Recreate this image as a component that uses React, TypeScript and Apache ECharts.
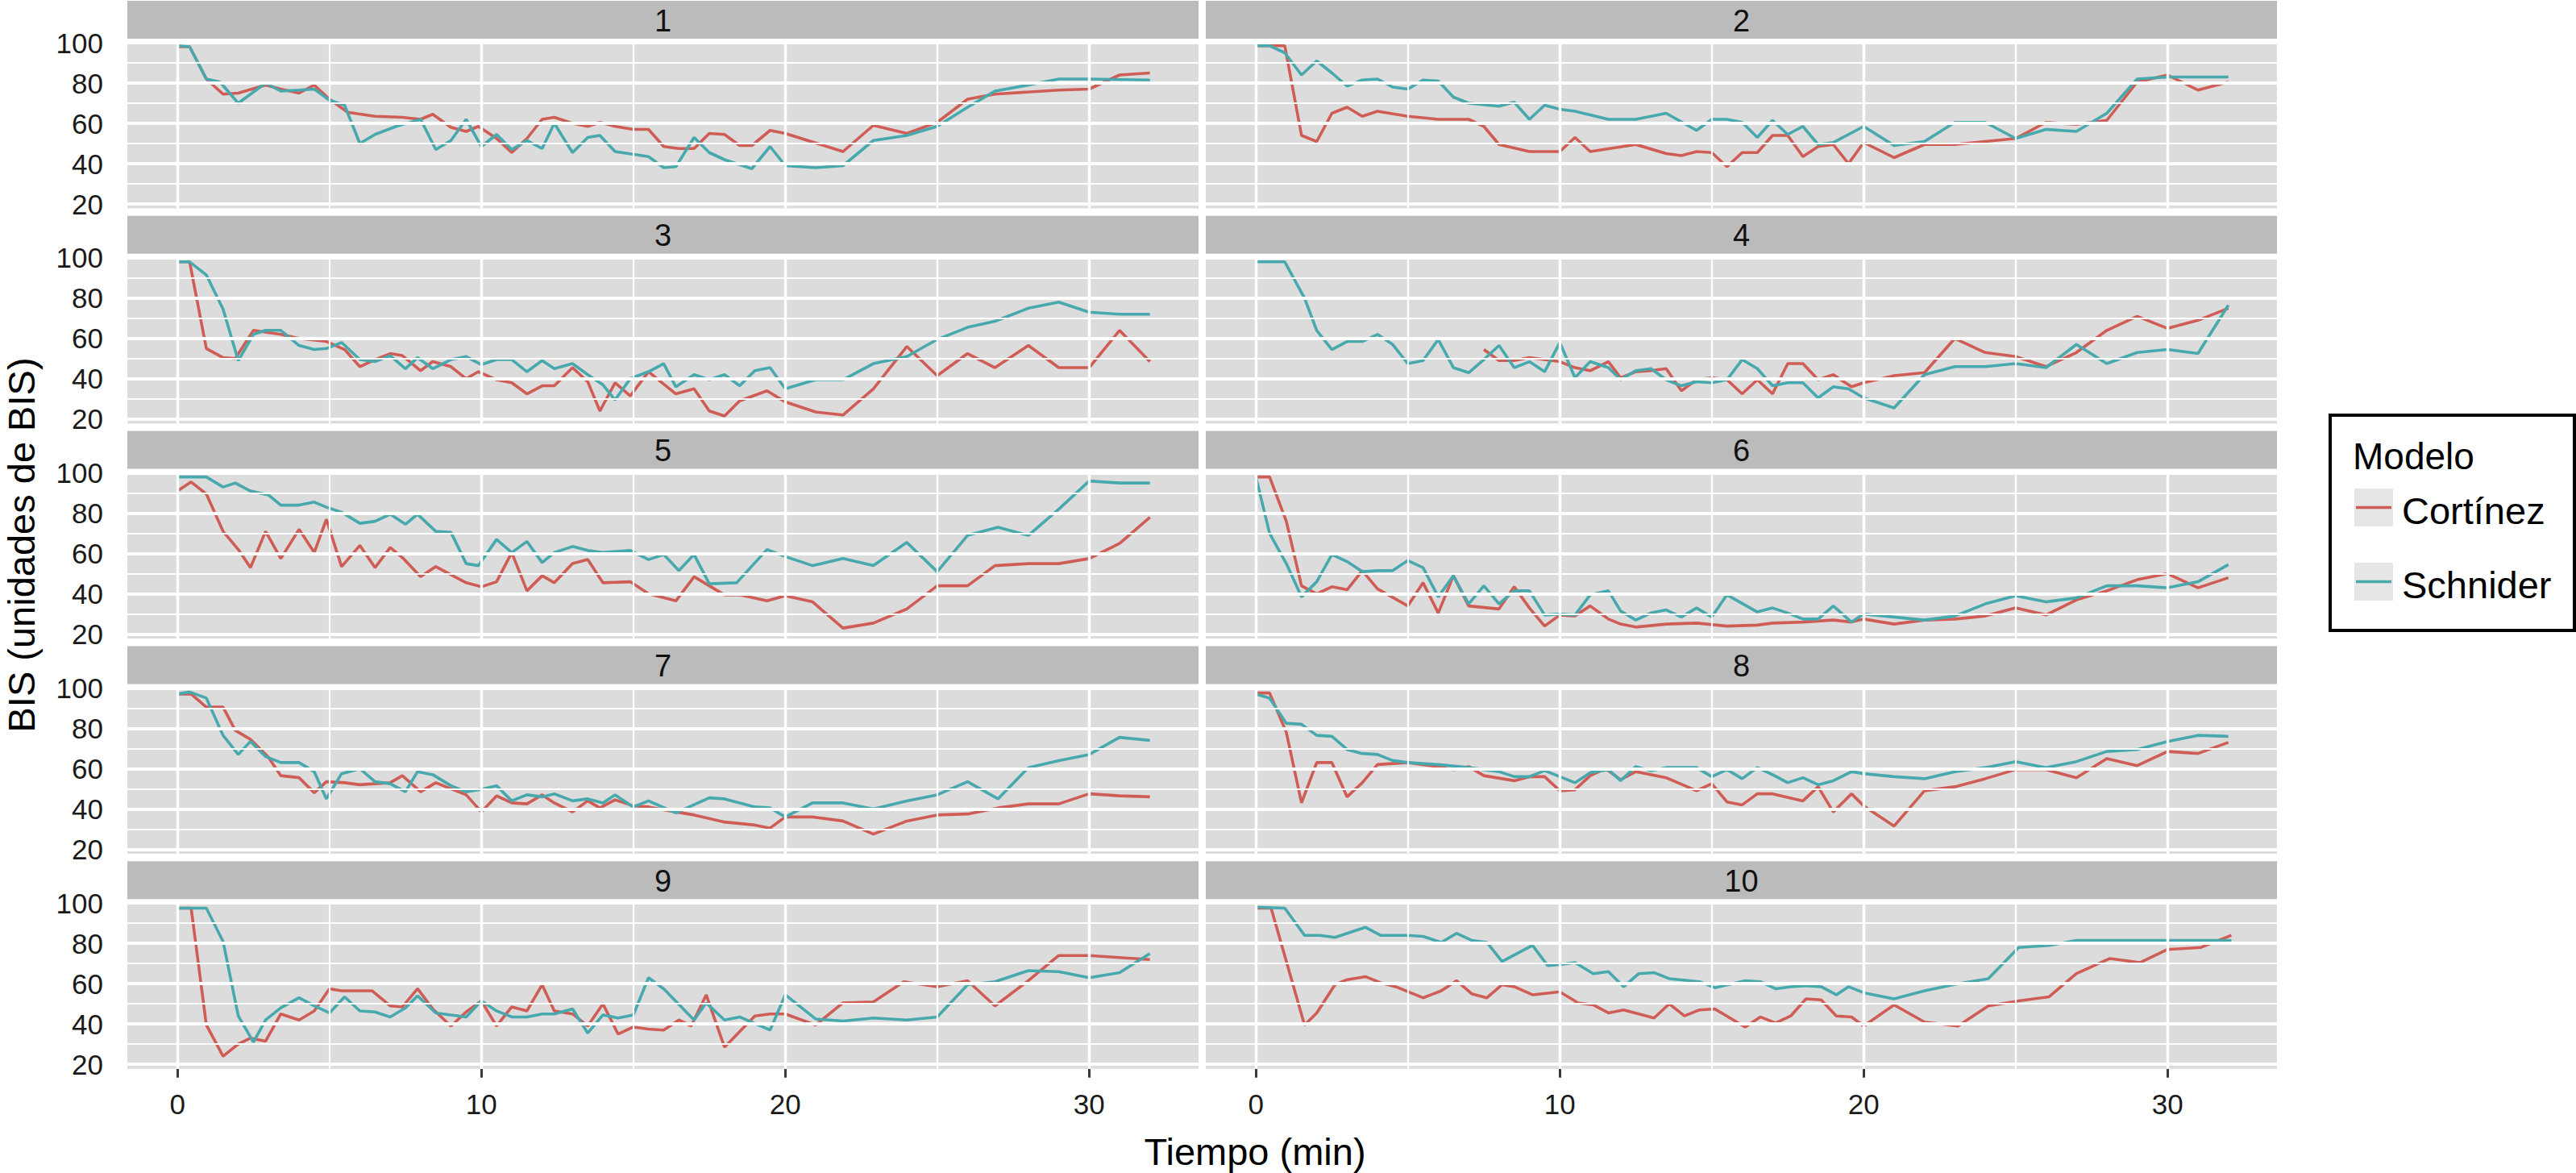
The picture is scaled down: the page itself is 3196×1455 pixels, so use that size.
import React, { useEffect, useRef } from "react";
import * as echarts from "echarts";

const FONT = '"Liberation Sans", Arial, Helvetica, sans-serif';
const RED = "#CF5D55";
const TEAL = "#47A9AD";

const panelLabels = ["1", "2", "3", "4", "5", "6", "7", "8", "9", "10"];
const seriesNames = ["Cortínez", "Schnider"];
const xTicks = [0, 10, 20, 30];
const xMinor = [5, 15, 25];
const yTicks = [20, 40, 60, 80, 100];
const yMinor = [30, 50, 70, 90];
const xTitle = "Tiempo (min)";
const yTitle = "BIS (unidades de BIS)";
const legendTitle = "Modelo";

const p1C = [[0,98],[0.4,98],[0.95,82],[1.5,74.5],[2,75],[2.9,79],[3.4,77],[4,75],[4.5,79],[5,72],[5.6,65.5],[6.5,63.5],[7.4,63],[8,62],[8.4,64.5],[9,58],[9.5,56],[9.9,58.5],[10.5,52.5],[11,45.5],[11.5,52.5],[12,62],[12.4,63],[13,60],[13.5,58.5],[13.9,60.5],[14.4,58.5],[15,57],[15.5,57],[16,48.5],[16.5,47.5],[17,47.5],[17.5,55],[18,54.5],[18.5,49],[18.9,49],[19.5,56.5],[20,55],[21.9,46],[22.9,59],[24,55],[25,60.5],[26,72],[26.9,74.5],[29,76.5],[30,77],[31,84],[32,85]];
const p1S = [[0,98.5],[0.4,98],[0.95,82],[1.4,80.5],[2,70],[2.9,80],[3.4,76],[4,76.5],[4.5,77],[5,71.5],[5.5,69],[6,50],[6.5,54.5],[7.2,58.5],[8,62],[8.5,47],[9,51.5],[9.5,62],[10,48.5],[10.5,54.5],[11,47],[11.5,51.5],[12,47.5],[12.4,60],[13,45.5],[13.5,53],[13.9,54],[14.4,46],[15.5,43.5],[16,38],[16.4,38.5],[17,53],[17.5,45.5],[18,42],[18.9,37.5],[19.5,48.5],[20,39],[21,38],[21.9,39],[22.9,51.5],[24,54],[25,58.5],[26,68],[26.9,76],[28,79],[29,82],[30,82],[32,81.5]];
const p2C = [[0,98.5],[0.95,98.5],[1.5,54],[2,51],[2.5,65],[3,68],[3.5,63.5],[4,66],[5,63.5],[6,62],[7,62],[7.5,58.5],[8,49.5],[9,46],[10,46],[10.5,53],[11,46],[12.5,49.5],[13.5,45],[14,44],[14.5,46],[15,45.5],[15.5,38.5],[16,45.5],[16.5,45.5],[17,54],[17.5,54],[18,43.5],[18.5,48.5],[19,49.5],[19.5,40],[20,50.5],[21,43],[22,49.5],[23,49.5],[24,51],[25,52.5],[26,60.5],[27,59.5],[28,61.5],[29,80.5],[30,84],[31,76.5],[32,80.5]];
const p2S = [[0,98.5],[0.45,98.5],[0.95,95],[1.5,84],[2,91],[2.5,85],[3,78.5],[3.5,81.5],[4,82],[4.5,78],[5,77],[5.5,81.5],[6,81],[6.5,73],[7,70],[8,68.5],[8.5,70.5],[9,62],[9.5,69],[10,67],[10.5,66],[11.6,62],[12.5,62],[13.5,65],[14.5,56.5],[15,62],[15.5,62],[16,60.5],[16.5,53],[17,61.5],[17.5,54.5],[18,58.5],[18.5,49.5],[19,50.5],[20,58.5],[21,49],[22,51],[23,60.5],[24,60.5],[25,52.5],[26,57],[27,56],[28,65],[29,82],[30,83],[32,83]];
const p3C = [[0,98],[0.4,98],[0.95,55],[1.5,50.5],[1.9,50],[2.5,64],[3.4,62],[4,60],[4.9,58.5],[5.5,54.5],[6,46],[6.5,49.5],[7,52.5],[7.4,51.5],[8,44],[8.4,48.5],[9,46],[9.5,40],[9.9,43.5],[10.5,39.5],[11,38],[11.5,32.5],[12,36.5],[12.4,36.5],[13,45.5],[13.5,38.5],[13.9,24],[14.4,38],[14.9,31.5],[15.5,43.5],[16.4,32.5],[17,35],[17.5,24],[18,21.5],[18.5,29],[19.4,34],[20,28.5],[21,23.5],[21.9,22],[22.9,35],[24,56],[25,41.5],[26,52.5],[26.9,45.5],[28,56.5],[29,45.5],[30,45.5],[31,64],[32,48.5]];
const p3S = [[0,98],[0.4,98],[0.95,91.5],[1.5,74.5],[2,49],[2.5,62],[2.9,64],[3.4,64],[4,56.5],[4.5,54.5],[4.9,55],[5.4,58],[6,49.5],[6.5,48.5],[7,51.5],[7.5,45],[7.9,50.5],[8.4,45],[9,49.5],[9.5,51],[10,47],[10.5,49.5],[11,49.5],[11.5,43.5],[12,49],[12.4,45],[13,47.5],[13.5,42],[14,37],[14.4,29.5],[14.9,40],[15.5,43.5],[16,47.5],[16.4,36],[17,42],[17.5,39.5],[18,42],[18.5,36.5],[19,44],[19.5,45.5],[20,35],[21,39.5],[21.9,39.5],[22.9,47.5],[24,51],[25,59.5],[26,65.5],[26.9,68.5],[28,75],[29,78],[30,73],[31,72],[32,72]];
const p4C = [[7.5,54.5],[8,49],[8.5,49],[9,50.5],[9.5,49.5],[10,48.5],[10.5,45.5],[11,44],[11.6,48.5],[12,40.5],[12.5,43.5],[13,44],[13.5,45],[14,34],[14.5,39.5],[15,40.5],[15.5,39.5],[16,32.5],[16.5,39.5],[17,32.5],[17.5,47.5],[18,47.5],[18.5,39.5],[19,42],[19.6,36],[20,38],[21,41.5],[22,43],[23,60],[24,53],[25,51],[26,46],[27,53],[28,64],[29,71],[30,65],[31,69],[32,75]];
const p4S = [[0,98],[0.95,98],[1.6,80],[2,64],[2.5,54.5],[3,58.5],[3.5,58.5],[4,62],[4.5,57],[5,47.5],[5.5,49],[6,59.5],[6.5,45.5],[7,43],[7.5,49.5],[8,56.5],[8.5,45.5],[9,48.5],[9.5,43.5],[10,58],[10.5,40.5],[11,48.5],[11.6,45.5],[12,39.5],[12.5,44],[13,45],[13.5,39.5],[14,36.5],[14.5,38.5],[15,38],[15.5,39.5],[16,49.5],[16.5,45],[17,36.5],[17.5,38],[18,38],[18.5,30.5],[19,36],[19.5,35],[20,30.5],[21,25.5],[22,42],[23,46],[24,46],[25,47.5],[26,45.5],[27,57],[28,47.5],[29,53],[30,54.5],[31,52.5],[32,76.5]];
const p5C = [[0,91],[0.45,95.5],[0.95,89.5],[1.5,71],[2,62],[2.4,53],[2.9,71],[3.4,57.5],[4,72],[4.5,60.5],[4.9,77],[5.4,53.5],[6,64],[6.5,53],[7,63],[7.4,58],[8,48.5],[8.5,53.5],[9.5,45.5],[10,43.5],[10.5,46],[11,60.5],[11.5,41.5],[12,49],[12.4,45.5],[13,55],[13.5,57],[14,45.5],[14.9,46],[15.5,40],[16.4,36.5],[17,48.5],[18,39.5],[18.5,39.5],[19.4,36.5],[20,39],[20.9,36],[21.9,23],[22.9,25.5],[24,32.5],[25,44],[26,44],[26.9,54],[28,55],[29,55],[30,57.5],[31,65],[32,78]];
const p5S = [[0,98],[0.95,98],[1.5,93],[1.9,95],[2.4,91],[3,89],[3.4,84],[4,84],[4.5,85.5],[4.9,83],[5.4,80.5],[6,75],[6.5,76],[7,79.5],[7.5,74.5],[7.9,79.5],[8.5,71],[9,70.5],[9.5,55],[9.9,54],[10.5,67],[11,60.5],[11.5,66],[12,55.5],[12.4,60.5],[13,63.5],[13.5,61.5],[14,60.5],[14.9,61.5],[15.5,57],[16,59.5],[16.5,51.5],[17,59.5],[17.5,45],[18.4,45.5],[19.4,62],[20,58.5],[20.9,54],[21.9,57.5],[22.9,54],[24,65.5],[25,51],[26,69],[27,73],[28,69],[29,82],[30,96],[31,95],[32,95]];
const p6C = [[0,98],[0.45,98],[1,76],[1.5,44],[2,40],[2.5,43.5],[3,42],[3.5,51.5],[4,42.5],[5,34],[5.5,45.5],[6,30.5],[6.5,49],[7,34],[8,32.5],[8.5,43.5],[9,33],[9.5,24],[10,29.5],[10.5,29],[11,34],[11.6,27.5],[12,25],[12.5,23.5],[13.5,25],[14.5,25.5],[15.5,24],[16.5,24.5],[17,25.5],[18,26],[19,27],[19.6,26],[20,27.5],[21,25],[22,27],[23,27.5],[24,29],[25,33],[26,29.5],[27,37],[28,41.5],[29,47],[30,50],[31,43],[32,48]];
const p6S = [[0,98],[0.45,70],[1,55],[1.5,38.5],[2,46],[2.5,59.5],[3,56],[3.5,51],[4,51.5],[4.5,51.5],[5,56.5],[5.5,53],[6,38.5],[6.5,49],[7,35],[7.5,44],[8,35],[8.5,41.5],[9,41.5],[9.5,29.5],[10,30],[10.5,29.5],[11,39.5],[11.6,41.5],[12,31.5],[12.5,27],[13,30.5],[13.5,32],[14,28.5],[14.5,33],[15,28.5],[15.5,39.5],[16.5,31],[17,33],[17.5,30.5],[18,27.5],[18.5,27.5],[19,34],[19.6,26],[20,30],[21,28.5],[22,27],[23,29],[24,35],[25,39],[26,36],[27,38],[28,44],[29,44],[30,43],[31,46],[32,54.5]];
const p7C = [[0,97],[0.45,97],[0.95,90.5],[1.5,90.5],[1.9,79],[2.4,74.5],[3,65.5],[3.4,56.5],[4,55.5],[4.5,48],[4.9,53.5],[5.5,53],[6,52],[7,53],[7.4,56.5],[8,48.5],[8.5,53],[9,50],[9.5,47],[10,38.5],[10.5,46.5],[11,43],[11.5,42.5],[12,47],[12.4,43],[13,38.5],[13.5,44],[13.9,40.5],[14.4,44.5],[15,41.5],[15.5,41],[16.4,38.5],[17,37],[18,33.5],[19,32],[19.5,30.5],[20,36],[20.9,36],[21.9,34],[22.9,27.5],[24,34],[25,37],[26,37.5],[27,40.5],[28,42.5],[29,42.5],[30,47.5],[31,46.5],[32,46]];
const p7S = [[0,97],[0.4,98],[0.95,95],[1.5,76.5],[2,67],[2.4,73.5],[2.9,66],[3.4,63],[4,63],[4.5,58.5],[4.9,45],[5.4,57.5],[6,60],[6.5,53.5],[7,52.5],[7.5,48.5],[7.9,58.5],[8.4,57],[9,51.5],[9.5,48.5],[9.9,49.5],[10.5,51.5],[11,44],[11.5,47],[12,46],[12.4,47.5],[13,44],[13.5,45],[14,43],[14.4,47],[15,41],[15.5,44],[16.4,38],[17.5,45.5],[18,45],[19,41],[19.5,40.5],[20,36],[20.9,43],[21.9,43],[22.9,40],[24,44],[25,47],[26,53.5],[27,45],[28,60.5],[29,64],[30,67],[31,75.5],[32,74]];
const p8C = [[0,97.5],[0.45,97.5],[1,78],[1.5,43],[2,63],[2.5,63],[3,46],[3.5,53],[4,62],[5,63],[6,61],[6.5,59.5],[7,61],[7.5,56.5],[8.5,54],[9,56],[9.5,56],[10,49],[10.5,49.5],[11,56.5],[11.5,60],[12,54.5],[12.5,58.5],[13.5,55.5],[14.5,49],[15,52.5],[15.5,43.5],[16,42],[16.5,47.5],[17,47.5],[18,44],[18.5,51],[19,38.5],[19.6,47.5],[20,41.5],[21,31.5],[22,49],[23,51],[24,55],[25,59.5],[26,59.5],[27,55.5],[28,65],[29,61.5],[30,68.5],[31,67.5],[32,73]];
const p8S = [[0,97],[0.45,95],[1,82.5],[1.5,82],[2,76.5],[2.5,76],[3,69.5],[3.5,67.5],[4,67],[4.5,64],[5,63],[6,62],[7,60.5],[8,58.5],[8.5,56],[9,56],[9.5,59],[10,56],[10.5,53],[11,58],[11.6,59.5],[12,54],[12.5,61],[13,59],[13.5,60.5],[14.5,60.5],[15,56],[15.5,59.5],[16,55],[16.5,60.5],[17,57],[17.5,53],[18,55.5],[18.5,52],[19,54],[19.6,58.5],[20,57.5],[21,56],[22,55],[23,58.5],[24,60.5],[25,63.5],[26,60.5],[27,63.5],[28,68.5],[29,69.5],[30,73.5],[31,76.5],[32,76]];
const p9C = [[0,97.5],[0.45,97.5],[0.95,39.5],[1.5,24],[2,30],[2.4,33],[2.9,31.5],[3.4,45],[4,42],[4.5,46.5],[5,57.5],[5.4,56.5],[6.4,56.5],[7,49],[7.4,48.5],[7.9,57.5],[8.4,47.5],[9,39],[9.5,46],[10,51.5],[10.5,39],[11,48.5],[11.5,46.5],[12,59.5],[12.4,46.5],[13,45],[13.5,39],[14,50],[14.5,35],[15,38.5],[15.5,37.5],[16,37],[16.5,42],[16.9,39],[17.4,54.5],[18,28.5],[19,44],[19.5,45],[20,45],[21,39.5],[21.9,50.5],[22.9,51],[23.9,61],[25,58.5],[26,61.5],[26.9,49],[28,61.5],[29,74],[30,74],[31,73],[32,72]];
const p9S = [[0,97.5],[0.95,97.5],[1.5,81],[2,44],[2.5,31],[2.9,42],[3.4,48],[4,53],[4.5,49],[5,45.5],[5.5,53.5],[6,46.5],[6.5,46],[7,43.5],[7.5,48],[7.9,54],[8.5,45.5],[9,44.5],[9.5,43.5],[10,51.5],[10.5,46.5],[11,43.5],[11.5,43.5],[12,45],[12.4,45],[13,47.5],[13.5,35.5],[14,44.5],[14.5,43],[15,44.5],[15.5,63],[16,57.5],[17,42],[17.4,50.5],[18,42],[18.5,43.5],[19.5,37],[20,54.5],[21,42.5],[21.9,41.5],[22.9,43],[24,42],[25,43.5],[26,59.5],[26.9,61],[28,66.5],[29,66],[30,63],[31,65.5],[32,75]];
const p10C = [[0,97.5],[0.5,97.5],[1.6,39.5],[2,45.5],[2.6,59.5],[3,62],[3.6,63.5],[4.1,60.5],[4.6,58.5],[5.5,53],[6.1,56.5],[6.6,61.5],[7.1,55],[7.6,53],[8.1,59.5],[8.5,58.5],[9.1,54.5],[10,56],[10.6,50.5],[11.1,49.5],[11.6,45.5],[12.1,47],[13.1,43],[13.6,50],[14.1,44],[14.6,47],[15.1,47.5],[16.1,38.5],[16.6,43.5],[17.1,40.5],[17.6,44],[18.1,52.5],[18.6,52],[19.1,44],[19.6,43.5],[20,39],[21,49.5],[22,41],[23.1,39],[24.1,49],[25.1,51.5],[26.1,53.5],[27,65],[28.1,72.5],[29.1,70.5],[30,77],[31.1,78],[32.1,84]];
const p10S = [[0,98],[0.95,97.5],[1.6,84],[2.1,84],[2.6,83],[3.6,88],[4.1,84],[5,84],[5.5,83.5],[6.1,80.5],[6.6,85],[7.1,81.5],[7.6,80.5],[8.1,71],[9.1,79],[9.6,69],[10,69.5],[10.5,70.5],[11.1,65],[11.6,66],[12.1,58.5],[12.6,65],[13.1,65.5],[13.6,62.5],[14.6,61],[15.1,58],[16.1,61.5],[16.6,61],[17.1,57.5],[17.6,58.5],[18.1,59],[18.6,58.5],[19.1,54.5],[19.5,58.5],[20,55.5],[21,52.5],[22,56.5],[23.1,60],[24.1,62.5],[25.1,78],[26.1,79],[27,81.5],[28.1,81.5],[30,81.5],[32.1,81.5]];

const cortinezData = [p1C, p2C, p3C, p4C, p5C, p6C, p7C, p8C, p9C, p10C];
const schniderData = [p1S, p2S, p3S, p4S, p5S, p6S, p7S, p8S, p9S, p10S];

// layout (pixels)
const COL_LEFT = [158, 1496];
const PANEL_W = 1329;
const ROW_TOP0 = 52;
const ROW_PITCH = 266.8;
const PANEL_H = 206.5;
const STRIP_GAP = 51;
const STRIP_H = 47;
const X_RANGE = [-1.65, 33.6];
const Y_RANGE = [17.8, 100.4];

function buildOption() {
  const grids: any[] = [];
  const xAxes: any[] = [];
  const yAxes: any[] = [];
  const series: any[] = [];
  const graphics: any[] = [];

  panelLabels.forEach((lab, i) => {
    const col = i % 2;
    const row = Math.floor(i / 2);
    const left = COL_LEFT[col];
    const top = ROW_TOP0 + ROW_PITCH * row;
    grids.push({
      left,
      top,
      width: PANEL_W,
      height: PANEL_H,
      show: true,
      backgroundColor: "#DCDCDC",
      borderWidth: 0,
      containLabel: false,
    });
    const bottomRow = row === 4;
    const leftCol = col === 0;
    xAxes.push({
      gridIndex: i,
      type: "value",
      min: X_RANGE[0],
      max: X_RANGE[1],
      axisLine: { show: false },
      splitLine: { show: false },
      axisTick: {
        show: bottomRow,
        customValues: xTicks,
        length: 11,
        lineStyle: { color: "#3a3a3a", width: 3 },
      },
      axisLabel: {
        show: bottomRow,
        customValues: xTicks,
        fontSize: 35,
        color: "#1a1a1a",
        fontFamily: FONT,
        margin: 26,
      },
    });
    yAxes.push({
      gridIndex: i,
      type: "value",
      min: Y_RANGE[0],
      max: Y_RANGE[1],
      axisLine: { show: false },
      splitLine: { show: false },
      axisTick: {
        show: leftCol,
        customValues: yTicks,
        length: 11,
        lineStyle: { color: "#3a3a3a", width: 3 },
      },
      axisLabel: {
        show: leftCol,
        customValues: yTicks,
        fontSize: 35,
        color: "#1a1a1a",
        fontFamily: FONT,
        margin: 30,
      },
    });

    const gridLines: any[] = [];
    yMinor.forEach((v) => gridLines.push({ yAxis: v, lineStyle: { width: 2.2 } }));
    xMinor.forEach((v) => gridLines.push({ xAxis: v, lineStyle: { width: 2.2 } }));
    yTicks.forEach((v) => gridLines.push({ yAxis: v, lineStyle: { width: 4.2 } }));
    xTicks.forEach((v) => gridLines.push({ xAxis: v, lineStyle: { width: 3.4 } }));
    series.push({
      type: "line",
      xAxisIndex: i,
      yAxisIndex: i,
      data: [],
      silent: true,
      z: 1,
      markLine: {
        silent: true,
        symbol: ["none", "none"],
        label: { show: false },
        lineStyle: { color: "#FFFFFF", type: "solid", width: 2 },
        emphasis: { disabled: true },
        data: gridLines,
      },
    });

    [cortinezData[i], schniderData[i]].forEach((d, s) => {
      series.push({
        name: seriesNames[s],
        type: "line",
        xAxisIndex: i,
        yAxisIndex: i,
        data: d,
        showSymbol: false,
        symbol: "none",
        z: 3 + s,
        lineStyle: { color: s === 0 ? RED : TEAL, width: 3.6 },
        itemStyle: { color: s === 0 ? RED : TEAL },
      });
    });

    // strip
    graphics.push({
      type: "rect",
      shape: { x: left, y: top - STRIP_GAP, width: PANEL_W, height: STRIP_H },
      style: { fill: "#BBBBBB" },
      silent: true,
    });
    graphics.push({
      type: "text",
      x: left + PANEL_W / 2,
      y: top - STRIP_GAP + STRIP_H / 2 + 1,
      style: {
        text: lab,
        fontSize: 38,
        fontFamily: FONT,
        fill: "#111111",
        align: "center",
        verticalAlign: "middle",
      },
      silent: true,
    });
  });

  // axis titles
  graphics.push({
    type: "text",
    x: 1557,
    y: 1428,
    style: {
      text: xTitle,
      fontSize: 47,
      fontFamily: FONT,
      fill: "#000000",
      align: "center",
      verticalAlign: "middle",
    },
    silent: true,
  });
  graphics.push({
    type: "text",
    x: 26,
    y: 676,
    rotation: Math.PI / 2,
    style: {
      text: yTitle,
      fontSize: 47,
      fontFamily: FONT,
      fill: "#000000",
      align: "center",
      verticalAlign: "middle",
    },
    silent: true,
  });

  // legend
  graphics.push({
    type: "rect",
    shape: { x: 2891, y: 515, width: 303, height: 267 },
    style: { fill: "#FFFFFF", stroke: "#000000", lineWidth: 4 },
    silent: true,
  });
  graphics.push({
    type: "text",
    x: 2919,
    y: 566,
    style: {
      text: legendTitle,
      fontSize: 46,
      fontFamily: FONT,
      fill: "#000000",
      align: "left",
      verticalAlign: "middle",
    },
    silent: true,
  });
  const keyTops = [606, 698];
  seriesNames.forEach((nm, s) => {
    const ky = keyTops[s];
    graphics.push({
      type: "rect",
      shape: { x: 2921, y: ky, width: 48, height: 47 },
      style: { fill: "#E6E6E6" },
      silent: true,
    });
    graphics.push({
      type: "line",
      shape: { x1: 2923, y1: ky + 23.5, x2: 2967, y2: ky + 23.5 },
      style: { stroke: s === 0 ? RED : TEAL, lineWidth: 3.6 },
      silent: true,
    });
    graphics.push({
      type: "text",
      x: 2980,
      y: ky + 27,
      style: {
        text: nm,
        fontSize: 47,
        fontFamily: FONT,
        fill: "#000000",
        align: "left",
        verticalAlign: "middle",
      },
      silent: true,
    });
  });

  return {
    animation: false,
    backgroundColor: "#FFFFFF",
    textStyle: { fontFamily: FONT },
    grid: grids,
    xAxis: xAxes,
    yAxis: yAxes,
    series,
    graphic: { elements: graphics },
  };
}

export default function App() {
  const ref = useRef<HTMLDivElement | null>(null);
  useEffect(() => {
    document.body.style.margin = "0";
    if (!ref.current) return;
    const chart = echarts.init(ref.current, null, { renderer: "svg" });
    chart.setOption(buildOption() as any);
    return () => {
      chart.dispose();
    };
  }, []);
  return <div ref={ref} style={{ width: 3196, height: 1455 }} />;
}
